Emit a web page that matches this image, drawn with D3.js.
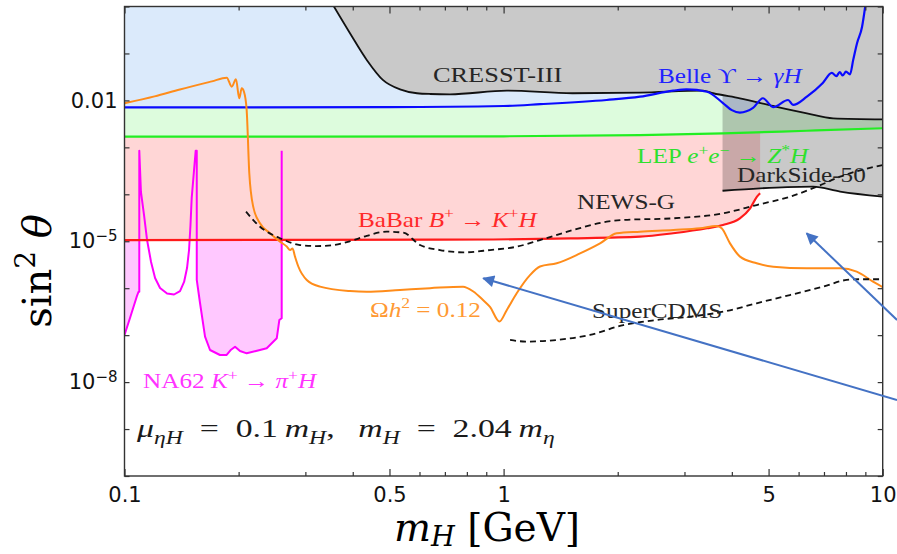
<!DOCTYPE html>
<html>
<head>
<meta charset="utf-8">
<script src="https://cdn.jsdelivr.net/npm/d3@7"></script>
<style>
  html, body { margin: 0; padding: 0; background: #fff; }
  svg { display: block; }
</style>
</head>
<body>
<div id="chart"></div>
<script>

// every curve is [m_H in GeV, sin^2 theta]
var belle = [
    [0.10, 7.1e-3], [0.50, 7.2e-3], [1.00, 7.6e-3], [1.25, 8.3e-3], [1.87, 1.02e-2], [2.29, 1.20e-2],
    [2.80, 1.61e-2], [3.04, 1.72e-2], [3.44, 1.53e-2], [3.79, 8.8e-3], [4.00, 6.2e-3], [4.20, 5.5e-3],
    [4.55, 6.9e-3], [4.83, 1.11e-2], [5.14, 7.2e-3], [5.63, 1.02e-2], [5.80, 8.0e-3], [6.31, 1.20e-2],
    [6.95, 2.35e-2], [7.34, 3.84e-2], [7.55, 3.3e-2], [7.70, 4.0e-2], [7.85, 3.4e-2], [8.00, 4.1e-2],
    [8.20, 3.6e-2], [8.36, 7.3e-2], [8.56, 0.167], [8.82, 0.366], [9.00, 1.05]
];

var lep = [[0.1, 1.69e-3], [1, 1.72e-3], [2.29, 1.83e-3], [3.79, 1.99e-3], [6.31, 2.26e-3], [10, 2.55e-3]];

var babar = [
    [0.1, 1.06e-5], [0.68, 1.08e-5], [1.5, 1.15e-5], [2.29, 1.25e-5], [2.8, 1.48e-5], [3.44, 1.89e-5],
    [3.79, 2.22e-5], [4.2, 3.08e-5], [4.47, 5.03e-5], [4.66, 8.9e-5], [4.75, 1.05e-4]
];

var cresst = [
    [0.352, 1.2], [0.393, 0.273], [0.436, 7.2e-2], [0.481, 2.7e-2], [0.533, 1.72e-2], [0.591, 1.42e-2],
    [0.64, 1.37e-2], [0.722, 1.35e-2], [1.02, 1.61e-2], [1.52, 1.42e-2], [2.29, 1.46e-2], [3.36, 1.61e-2],
    [3.57, 1.42e-2], [4.2, 1.11e-2], [5.14, 7.6e-3], [6.31, 5.3e-3], [7.4, 4.16e-3], [10, 3.96e-3]
];

var darkside = [[3.78, 1.19e-4], [4.75, 1.34e-4], [5.6, 1.42e-4], [6.55, 1.45e-4], [7.72, 1.14e-4], [10, 8.9e-5]];

var newsG = [
    [0.2092, 4.26e-5], [0.2277, 2.04e-5], [0.2572, 1.16e-5], [0.2904, 8.3e-6], [0.3214, 7.9e-6],
    [0.3548, 8.3e-6], [0.3934, 1.0e-5], [0.4354, 1.3e-5], [0.4916, 1.6e-5], [0.5439, 1.52e-5],
    [0.6019, 8.3e-6], [0.6796, 6.5e-6], [0.7830, 5.8e-6], [0.9207, 6.5e-6], [1.0828, 7.65e-6],
    [1.2474, 1.06e-5], [1.5276, 1.74e-5], [1.8707, 2.61e-5], [2.0697, 2.84e-5], [2.8039, 3.08e-5],
    [3.7974, 3.94e-5], [4.6524, 5.91e-5], [5.6947, 8.89e-5], [6.6988, 1.45e-4], [7.7161, 2.37e-4],
    [10, 4.21e-4]
];

var superCDMS = [
    [1.04, 7.9e-8], [1.15, 7.3e-8], [1.38, 7.9e-8], [1.69, 1.01e-7], [2.07, 1.64e-7], [2.53, 2.1e-7],
    [3.10, 2.47e-7], [3.80, 3.16e-7], [4.65, 4.77e-7], [5.69, 7.16e-7], [6.97, 1.08e-6], [8.04, 1.5e-6],
    [8.71, 1.55e-6], [10, 1.55e-6]
];

// relic density line, Omega h^2 = 0.12
var relic = [
    [0.1, 8.7e-3], [0.12, 1.22e-2], [0.14, 1.71e-2], [0.17, 2.54e-2], [0.1861, 3.04e-2], [0.1918, 1.96e-2],
    [0.1968, 2.81e-2], [0.2008, 1.11e-2], [0.2038, 1.81e-2], [0.2066, 1.53e-2], [0.2100, 6.3e-3],
    [0.2134, 2.8e-4], [0.2186, 5.4e-5], [0.2277, 2.41e-5], [0.2420, 1.48e-5], [0.2572, 9.8e-6],
    [0.2679, 7.7e-6], [0.2735, 6.5e-6], [0.2775, 7.0e-6], [0.2817, 4.7e-6], [0.2874, 2.9e-6],
    [0.3025, 1.5e-6], [0.3280, 1.08e-6], [0.3934, 8.7e-7], [0.4354, 8.4e-7], [0.5331, 9.2e-7],
    [0.6395, 1.0e-6], [0.7815, 1.08e-6], [0.8319, 8.5e-7], [0.8824, 5.6e-7], [0.9207, 4.0e-7],
    [0.9750, 1.95e-7], [1.0190, 3.4e-7], [1.0828, 7.8e-7], [1.1738, 1.9e-6], [1.2474, 2.9e-6],
    [1.3808, 3.4e-6], [1.5907, 5.5e-6], [1.7963, 9.0e-6], [1.9877, 1.48e-5], [2.2895, 1.6e-5],
    [2.8039, 1.74e-5], [3.2966, 1.89e-5], [3.6485, 2.11e-5], [3.7610, 1.89e-5], [3.9558, 9.0e-6],
    [4.2033, 4.7e-6], [4.6524, 3.4e-6], [5.1451, 2.87e-6], [6.3023, 2.65e-6], [7.7161, 2.65e-6],
    [8.5389, 2.25e-6], [9.4279, 1.38e-6], [10, 1.05e-6]
];

// NA62 K+ -> pi+ H, three pieces split by the spikes
var na62Top = 8.5e-4;
var na62Left = [[0.1000, 1.01e-7], [0.1034, 2.32e-7], [0.1077, 6.59e-7], [0.1089, 8.4e-7], [0.1094, 8.4e-7]];
var na62Mid = [
    [0.1105, 1.12e-4], [0.1126, 3.62e-5], [0.1147, 1.06e-5], [0.1175, 3.62e-6], [0.1204, 1.65e-6],
    [0.1241, 1.01e-6], [0.1295, 7.7e-7], [0.1351, 7.34e-7], [0.1401, 8.7e-7], [0.1436, 1.36e-6],
    [0.1462, 2.69e-6], [0.1480, 6.51e-6], [0.1493, 2.22e-5], [0.1504, 8.34e-5]
];
var na62Right = [
    [0.1551, 1.5e-6], [0.1582, 4.84e-7], [0.1631, 9.27e-8], [0.1681, 4.83e-8], [0.1786, 3.78e-8],
    [0.1860, 3.78e-8], [0.1910, 4.9e-8], [0.1957, 5.68e-8], [0.2017, 4.59e-8], [0.2101, 4.10e-8],
    [0.2223, 4.6e-8], [0.2372, 5.25e-8], [0.2521, 8.57e-8], [0.2561, 2.10e-7], [0.2598, 2.3e-7]
];
var na62Spikes = [0.1094, 0.1541, 0.1551, 0.2598];

var xDomain = [0.1, 10];
var yDomain = [1e-10, 1];
var xTicks = [0.1, 0.2, 0.3, 0.4, 0.5, 0.6, 0.7, 0.8, 0.9, 1, 2, 3, 4, 5, 6, 7, 8, 9, 10];
var xMajor = [0.1, 0.5, 1, 5, 10];
var yTicks = [1e-10, 1e-9, 1e-8, 1e-7, 1e-6, 1e-5, 1e-4, 1e-3, 1e-2, 1e-1, 1];
var yLabelled = [-2, -5, -8];

// annotation arrows: tail, head
var arrows = [
    [[10.91, 4.16e-9], [0.884, 1.63e-6]],
    [[10.91, 2.1e-7], [6.30, 1.48e-5]]
];

var W = 897, H = 554;
var margin = { left: 124.5, right: 14.3, top: 6.5, bottom: 78 };
var width = W - margin.left - margin.right,
    height = H - margin.top - margin.bottom;

var svg = d3.select('#chart').append('svg')
    .attr('width', W)
    .attr('height', H);

var g = svg.append('g')
    .attr('transform', 'translate(' + margin.left + ',' + margin.top + ')');

var x = d3.scaleLog().domain(xDomain).range([0, width]);
var y = d3.scaleLog().domain(yDomain).range([height, 0]);

var defs = svg.append('defs');
defs.append('clipPath').attr('id', 'clip')
    .append('rect').attr('width', width).attr('height', height);
defs.append('marker')
    .attr('id', 'head')
    .attr('viewBox', '0 0 10 10')
    .attr('refX', 9).attr('refY', 5)
    .attr('markerWidth', 15).attr('markerHeight', 12)
    .attr('markerUnits', 'userSpaceOnUse')
    .attr('orient', 'auto')
    .append('path').attr('d', 'M0,0 L10,5 L0,10 z').attr('fill', '#4472c4');

var plot = g.append('g').attr('clip-path', 'url(#clip)');

var smooth = d3.line()
    .x(function(d) { return x(d[0]); })
    .y(function(d) { return y(d[1]); })
    .curve(d3.curveMonotoneX);

var straight = d3.line()
    .x(function(d) { return x(d[0]); })
    .y(function(d) { return y(d[1]); });

// region from a curve up to the top of the frame
var above = d3.area()
    .x(function(d) { return x(d[0]); })
    .y0(0)
    .y1(function(d) { return y(d[1]); })
    .curve(d3.curveMonotoneX);

/* fills, bottom layer first */
var na62FillLeft = na62Left.concat([[na62Spikes[0], na62Top], [xDomain[0], na62Top]]);
var na62FillRight = [[na62Spikes[2], na62Top]].concat(na62Right, [[na62Spikes[3], na62Top]]);

plot.append('path').datum(na62FillLeft).attr('d', straight).attr('fill', '#ffc8ff');
plot.append('path').datum(na62FillRight).attr('d', straight).attr('fill', '#ffc8ff');
plot.append('path').datum(babar).attr('d', above).attr('fill', '#ffd6d6');
plot.append('path').datum(lep).attr('d', above).attr('fill', '#ddfcdd');
plot.append('path').datum(belle).attr('d', above).attr('fill', '#dbeafb');
plot.append('path').datum(darkside).attr('d', above).attr('fill', '#000').attr('fill-opacity', 0.21);
plot.append('path').datum(cresst).attr('d', above).attr('fill', '#c9c9c9');

/* lines */
var na62Line = na62Left.concat(
    [[na62Spikes[0], na62Top]], na62Mid,
    [[na62Spikes[1], na62Top], [na62Spikes[2], na62Top]], na62Right,
    [[na62Spikes[3], na62Top]]);

var curves = [
    { data: cresst, color: '#111', w: 1.8 },
    { data: darkside, color: '#111', w: 1.8 },
    { data: lep, color: '#22ee22', w: 2.2 },
    { data: belle, color: '#0a0aff', w: 2.2 },
    { data: babar, color: '#ff1a1a', w: 2.2 },
    { data: relic, color: '#ff8c1a', w: 2 },
    { data: newsG, color: '#111', w: 1.8, dash: '6,4' },
    { data: superCDMS, color: '#111', w: 1.8, dash: '6,4' }
];

plot.append('path').datum(na62Line)
    .attr('d', straight)
    .attr('fill', 'none')
    .attr('stroke', '#ff00ff')
    .attr('stroke-width', 2)
    .attr('stroke-linejoin', 'round');

plot.selectAll('.curve').data(curves)
    .enter().append('path')
    .attr('class', 'curve')
    .attr('d', function(d) { return smooth(d.data); })
    .attr('fill', 'none')
    .attr('stroke', function(d) { return d.color; })
    .attr('stroke-width', function(d) { return d.w; })
    .attr('stroke-dasharray', function(d) { return d.dash || null; })
    .attr('stroke-linejoin', 'round');

/* text with italics, sub and superscripts */
var mathText = function(t, parts, fs, subShift) {
    var shift = 0;
    parts.forEach(function(p) {
        var s = p[1] || 'r';
        var target = s.indexOf('sup') === 0 ? -0.4 * fs : (s.indexOf('sub') === 0 ? (subShift || 0.28) * fs : 0);
        var ts = t.append('tspan').text(p[0]).attr('dy', target - shift);
        shift = target;
        if (s === 'i' || s === 'supi' || s === 'subi') ts.style('font-style', 'italic');
        if (s !== 'r' && s !== 'i') ts.style('font-size', (0.7 * fs) + 'px');
    });
};

var labels = [
    { at: [0.651, 2.5e-2], color: '#262626', size: 22, parts: [['CRESST-III']] },
    { at: [2.555, 2.35e-2], color: '#2222ff', parts: [['Belle '], ['\u03d2'], [' \u2192 '], ['\u03b3H', 'i']] },
    { at: [2.249, 4.57e-4], color: '#2ee02e', parts: [['LEP '], ['e', 'i'], ['+', 'sup'], ['e', 'i'], ['\u2212', 'sup'], [' \u2192 '], ['Z', 'i'], ['*', 'sup'], ['H', 'i']] },
    { at: [4.128, 1.85e-4], color: '#262626', parts: [['DarkSide-50']] },
    { at: [1.562, 4.8e-5], color: '#262626', parts: [['NEWS-G']] },
    { at: [0.413, 2.04e-5], color: '#ff2a2a', parts: [['BaBar '], ['B', 'i'], ['+', 'sup'], [' \u2192 '], ['K', 'i'], ['+', 'sup'], ['H', 'i']] },
    { at: [0.444, 2.47e-7], color: '#ff9933', parts: [['\u03a9'], ['h', 'i'], ['2', 'sup'], [' = 0.12']] },
    { at: [1.711, 2.32e-7], color: '#262626', parts: [['SuperCDMS']] },
    { at: [0.1119, 7.48e-9], color: '#ff33ff', parts: [['NA62 '], ['K', 'i'], ['+', 'sup'], [' \u2192 '], ['\u03c0', 'i'], ['+', 'sup'], ['H', 'i']] },
    { at: [0.1079, 6.77e-10], color: '#1a1a1a', size: 26, stretch: 1.3, parts: [
        ['\u03bc', 'i'], ['\u03b7H', 'subi'], ['\u2002=\u20020.1\u2009'], ['m', 'i'], ['H', 'subi'],
        [',\u2002\u2009'], ['m', 'i'], ['H', 'subi'], ['\u2002=\u20022.04\u2009'], ['m', 'i'], ['\u03b7', 'subi']] }
];

labels.forEach(function(l) {
    var fs = l.size || 21;
    var t = g.append('text')
        .attr('transform', 'translate(' + x(l.at[0]) + ',' + y(l.at[1]) + ') scale(' + (l.stretch || 1.2) + ',1)')
        .attr('font-family', '"Liberation Serif", serif')
        .attr('font-size', fs)
        .attr('fill', l.color);
    mathText(t, l.parts, fs);
});

/* axes */
var fmtX = function(d) { return xMajor.indexOf(d) >= 0 ? String(d) : ''; };
var isMajor = function(d) { return xMajor.indexOf(d) >= 0; };

var gx = g.append('g')
    .attr('transform', 'translate(0,' + height + ')')
    .call(d3.axisBottom(x).tickValues(xTicks).tickSizeInner(-4).tickSizeOuter(0).tickPadding(11).tickFormat(fmtX));
gx.selectAll('.tick line').attr('y2', function(d) { return isMajor(d) ? -7 : -4; });

var gxt = g.append('g')
    .call(d3.axisTop(x).tickValues(xTicks).tickSizeInner(-4).tickSizeOuter(0).tickFormat(''));
gxt.selectAll('.tick line').attr('y2', function(d) { return isMajor(d) ? 7 : 4; });

var gy = g.append('g')
    .call(d3.axisLeft(y).tickValues(yTicks).tickSizeInner(-5).tickSizeOuter(0).tickPadding(7).tickFormat(''));

g.append('g')
    .attr('transform', 'translate(' + width + ',0)')
    .call(d3.axisRight(y).tickValues(yTicks).tickSizeInner(-5).tickSizeOuter(0).tickFormat(''));

g.selectAll('.domain').remove();
g.selectAll('.tick line').attr('stroke', '#333').attr('stroke-width', 1.2);
[gx, gy].forEach(function(a) {
    a.attr('font-family', '"DejaVu Sans", sans-serif').attr('font-size', 21);
    a.selectAll('.tick text').attr('fill', '#111');
});

gy.selectAll('.tick text').each(function(d) {
    var e = Math.round(Math.log10(d));
    if (yLabelled.indexOf(e) < 0) return;
    var t = d3.select(this);
    if (e === -2) {
        t.text('0.01');
    } else {
        t.append('tspan').text('10');
        t.append('tspan').text('\u2212' + (-e)).attr('dy', '-0.5em').style('font-size', '15px');
    }
});

g.append('rect')
    .attr('width', width)
    .attr('height', height)
    .attr('fill', 'none')
    .attr('stroke', '#333')
    .attr('stroke-width', 1.4);

/* axis titles */
var yt = svg.append('text')
    .attr('transform', 'translate(51,271) rotate(-90)')
    .attr('text-anchor', 'middle')
    .attr('font-family', '"DejaVu Serif", serif')
    .attr('font-size', 40)
    .attr('fill', '#000');
mathText(yt, [['sin'], ['2', 'sup'], [' '], ['\u03b8', 'i']], 40);

var xt = svg.append('text')
    .attr('transform', 'translate(487,541)')
    .attr('text-anchor', 'middle')
    .attr('font-family', '"DejaVu Serif", serif')
    .attr('font-size', 39)
    .attr('fill', '#000');
mathText(xt, [['m', 'i'], ['H', 'subi'], [' [GeV]']], 39, 0.14);

/* blue annotation arrows */
g.selectAll('.arrow').data(arrows)
    .enter().append('line')
    .attr('class', 'arrow')
    .attr('x1', function(d) { return x(d[0][0]); })
    .attr('y1', function(d) { return y(d[0][1]); })
    .attr('x2', function(d) { return x(d[1][0]); })
    .attr('y2', function(d) { return y(d[1][1]); })
    .attr('stroke', '#4472c4')
    .attr('stroke-width', 2)
    .attr('marker-end', 'url(#head)');

</script>
</body>
</html>
